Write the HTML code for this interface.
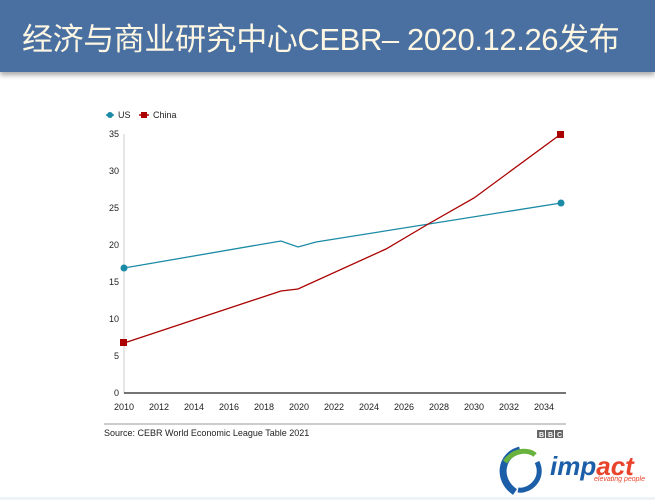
<!DOCTYPE html>
<html><head><meta charset="utf-8"><style>
body{margin:0;width:655px;height:500px;background:#fff;overflow:hidden;position:relative;font-family:"Liberation Sans",Arial,sans-serif}
.hdr{position:absolute;left:0;top:0;width:655px;height:72px;background:#4a70a2;box-shadow:0 3px 5px rgba(0,0,0,0.35)}
.hdr span{position:absolute;left:22px;top:14px;font-size:31px;color:#fdf6e3;font-family:"Liberation Sans","Noto Sans CJK SC",sans-serif;letter-spacing:-0.4px;white-space:nowrap}
svg{position:absolute;left:0;top:0}
</style></head><body>
<div class="hdr"><span>经济与商业研究中心CEBR– 2020.12.26发布</span></div>
<svg width="655" height="500" font-family="Liberation Sans,Arial,sans-serif">
<g font-size="9" fill="#222">
<line x1="106" y1="115" x2="114" y2="115" stroke="#1a8aa5" stroke-width="1.5"/><circle cx="110" cy="115" r="3" fill="#1a8aa5"/><text x="118" y="118">US</text>
<line x1="139" y1="115" x2="149" y2="115" stroke="#a00" stroke-width="1.5"/><rect x="141" y="112" width="6" height="6" fill="#a00"/><text x="153" y="118">China</text>
</g>
<line x1="124" y1="134" x2="124" y2="393" stroke="#ccc"/>
<line x1="124" y1="393" x2="566" y2="393" stroke="#222" stroke-width="1.2"/>
<g font-size="9" fill="#222" text-anchor="end">
<text x="119" y="396">0</text><text x="119" y="359">5</text><text x="119" y="322">10</text><text x="119" y="285">15</text><text x="119" y="248">20</text><text x="119" y="211">25</text><text x="119" y="174">30</text><text x="119" y="137">35</text>
</g>
<g font-size="9" fill="#222" text-anchor="middle">
<text x="124" y="410">2010</text><text x="159" y="410">2012</text><text x="194" y="410">2014</text><text x="229" y="410">2016</text><text x="264" y="410">2018</text><text x="299" y="410">2020</text><text x="334" y="410">2022</text><text x="369" y="410">2024</text><text x="404" y="410">2026</text><text x="439" y="410">2028</text><text x="474" y="410">2030</text><text x="509" y="410">2032</text><text x="544" y="410">2034</text>
</g>
<polyline points="124,268 281,241 298,247 316,242 561,203" fill="none" stroke="#1a8aa5" stroke-width="1.3"/>
<circle cx="124" cy="268" r="3.5" fill="#1a8aa5"/><circle cx="561" cy="203" r="3.5" fill="#1a8aa5"/>
<polyline points="124,343 281,291 298,289 386,249 430,223 474,198 561,134" fill="none" stroke="#a00" stroke-width="1.3"/>
<rect x="120" y="339" width="7" height="7" fill="#a00"/><rect x="557" y="131" width="7" height="7" fill="#a00"/>
<line x1="104" y1="424" x2="566" y2="424" stroke="#999"/>
<text x="104" y="436" font-size="9" fill="#222">Source: CEBR World Economic League Table 2021</text>
<g font-size="7" font-weight="bold" fill="#fff"><rect x="537" y="430" width="8" height="8" fill="#666"/><rect x="546" y="430" width="8" height="8" fill="#666"/><rect x="555" y="430" width="8" height="8" fill="#666"/><text x="539" y="437">B</text><text x="548" y="437">B</text><text x="557" y="437">C</text></g>
<path d="M520,450 C500,455 497,480 515,492" fill="none" stroke="#1c5fa8" stroke-width="7"/>
<path d="M505,462 C515,448 530,450 535,455" fill="none" stroke="#6ab23e" stroke-width="5"/>
<path d="M537,462 C545,478 530,492 518,490" fill="none" stroke="#1c5fa8" stroke-width="5"/>
<text x="550" y="475" font-size="26" font-style="italic" font-weight="bold" fill="#1c5fa8">imp<tspan fill="#e8432b">act</tspan></text>
<text x="594" y="481" font-size="7" font-style="italic" fill="#e8432b">elevating people</text>
<rect x="0" y="497" width="655" height="3" fill="#eef3f7"/>
</svg>
</body></html>
